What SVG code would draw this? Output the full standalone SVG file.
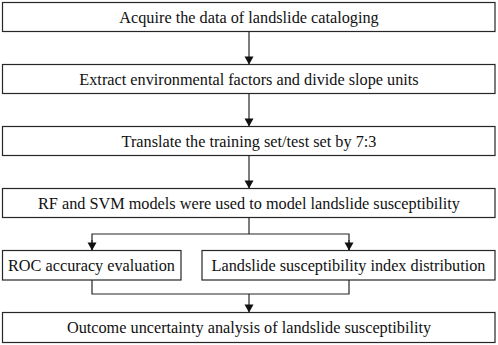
<svg xmlns="http://www.w3.org/2000/svg" width="498" height="345" viewBox="0 0 498 345">
<style>
.box{fill:#fff;stroke:#262626;stroke-width:1.2}
.lbl{font-size:16.25px;fill:#111;text-anchor:middle}
.ln{fill:none;stroke:#262626;stroke-width:1.2}
</style>
<defs>
<marker id="ah" markerUnits="userSpaceOnUse" markerWidth="10" markerHeight="10" viewBox="0 0 10 10" refX="9" refY="5" orient="auto">
<path d="M1,0.5 L9,5 L1,9.5 Z" fill="#111"/>
</marker>
</defs>
<rect width="498" height="345" fill="#fff"/>
<g id="connectors">
<line class="ln" x1="249" y1="31.5" x2="249" y2="64.5" marker-end="url(#ah)"/>
<line class="ln" x1="249" y1="93.5" x2="249" y2="126.5" marker-end="url(#ah)"/>
<line class="ln" x1="249" y1="155.5" x2="249" y2="188.5" marker-end="url(#ah)"/>
<polyline class="ln" points="249,217.5 249,234"/>
<polyline class="ln" points="92,250.5 92,234 349,234 349,250.5"/>
<line class="ln" x1="92" y1="240" x2="92" y2="250.5" marker-end="url(#ah)"/>
<line class="ln" x1="349" y1="240" x2="349" y2="250.5" marker-end="url(#ah)"/>
<polyline class="ln" points="92,280 92,294 349,294 349,280"/>
<line class="ln" x1="249" y1="294" x2="249" y2="312.5" marker-end="url(#ah)"/>
</g>
<g font-family="'Liberation Serif', 'DejaVu Serif', 'Times New Roman', Times, serif">
<g id="n1"><rect class="box" x="2.5" y="2.5" width="492.5" height="29"/><text class="lbl" x="249" y="23">Acquire the data of landslide cataloging</text></g>
<g id="n2"><rect class="box" x="2.5" y="64.5" width="492.5" height="29"/><text class="lbl" x="249" y="85">Extract environmental factors and divide slope units</text></g>
<g id="n3"><rect class="box" x="2.5" y="126.5" width="492.5" height="29"/><text class="lbl" x="249" y="147">Translate the training set/test set by 7:3</text></g>
<g id="n4"><rect class="box" x="2.5" y="188.5" width="492.5" height="29"/><text class="lbl" x="249" y="209">RF and SVM models were used to model landslide susceptibility</text></g>
<g id="n5"><rect class="box" x="2.5" y="250.5" width="178.5" height="29.5"/><text class="lbl" x="91.5" y="271">ROC accuracy evaluation</text></g>
<g id="n6"><rect class="box" x="202" y="250.5" width="293" height="29.5"/><text class="lbl" x="348.5" y="271">Landslide susceptibility index distribution</text></g>
<g id="n7"><rect class="box" x="2.5" y="312.5" width="492.5" height="30"/><text class="lbl" x="249" y="333">Outcome uncertainty analysis of landslide susceptibility</text></g>
</g>
</svg>
